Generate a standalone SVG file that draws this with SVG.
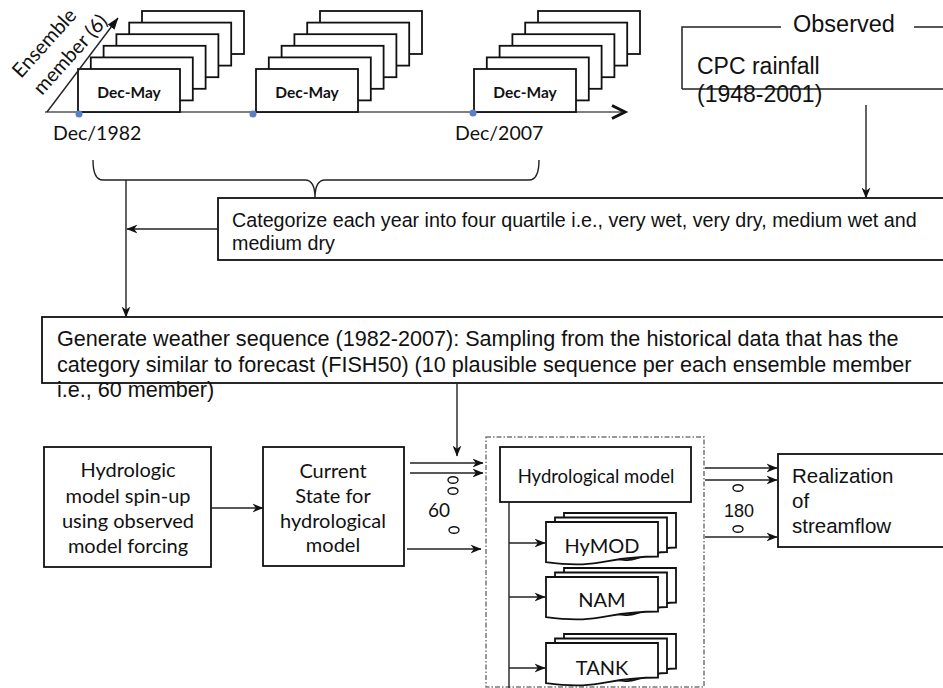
<svg xmlns="http://www.w3.org/2000/svg" width="943" height="688" viewBox="0 0 943 688">
<style>
.box{fill:#fff;stroke:#111;stroke-width:1.8}
.card{fill:#fff;stroke:#111;stroke-width:1.8}
.ln{fill:none;stroke:#222;stroke-width:1.4}
.cal{font-family:Lato,"Liberation Sans",sans-serif;fill:#111}
.ari{font-family:"Liberation Sans",Arial,sans-serif;fill:#111}
.dm{font-family:Lato,"Liberation Sans",sans-serif;font-weight:bold;font-size:15.5px;fill:#111;text-anchor:middle}
.doc{fill:#fff;stroke:#111;stroke-width:1.8}
.ell{fill:none;stroke:#111;stroke-width:1.4}
</style>
<defs>
<marker id="ah" viewBox="0 0 10 10" refX="9.5" refY="5" markerWidth="11" markerHeight="11" markerUnits="userSpaceOnUse" orient="auto">
<path d="M0,1 L10,5 L0,9 L3,5 z" fill="#111"/>
</marker>
<marker id="ah2" viewBox="0 0 10 10" refX="9.5" refY="5" markerWidth="12" markerHeight="12" markerUnits="userSpaceOnUse" orient="auto">
<path d="M0,1.5 L10,5 L0,8.5 z" fill="#111"/>
</marker>
<g id="stack">
<rect class="card" x="64" y="-58" width="102" height="43"/>
<rect class="card" x="51.2" y="-46.4" width="102" height="43"/>
<rect class="card" x="38.4" y="-34.8" width="102" height="43"/>
<rect class="card" x="25.6" y="-23.2" width="102" height="43"/>
<rect class="card" x="12.8" y="-11.6" width="102" height="43"/>
<rect class="card" x="0" y="0" width="102" height="43"/>
<text class="dm" x="51" y="29">Dec-May</text>
</g>
<g id="mdoc">
<path class="doc" d="M18,-9 h112 v34.5 c-28,0 -28,13 -56,6 c-28,-7 -28,0 -56,0 z"/>
<path class="doc" d="M9,-4.5 h112 v34.5 c-28,0 -28,13 -56,6 c-28,-7 -28,0 -56,0 z"/>
<path class="doc" d="M0,0 H112 V34.5 C56,34.5 56,47.6 0,40.2 Z"/>
</g>
</defs>

<g id="timeline">
<line x1="45" y1="112" x2="624" y2="112" stroke="#555" stroke-width="1.5"/>
<polyline points="612,105.5 625,112 612,118.5" fill="none" stroke="#111" stroke-width="3"/>
</g>

<g id="stack1"><use href="#stack" x="78" y="69"/></g>
<g id="stack2"><use href="#stack" x="256" y="69"/></g>
<g id="stack3"><use href="#stack" x="474" y="69"/></g>

<g id="dots" fill="#5b7fc7">
<circle cx="79" cy="114" r="3.5"/>
<circle cx="253" cy="114" r="3.5"/>
<circle cx="473" cy="113" r="3.5"/>
</g>

<g id="ensemble-label" class="cal" font-size="20">
<text transform="translate(21,79) rotate(-48)">Ensemble</text>
<text transform="translate(42,96) rotate(-48)">member (6)</text>
</g>

<g id="dates" class="cal" font-size="19.5">
<text x="53" y="140">Dec/1982</text>
<text x="455" y="140">Dec/2007</text>
</g>

<g id="observed">
<path d="M682,89 V27 H781 M914,27 H945 M682,89 H945" fill="none" stroke="#222" stroke-width="1.5"/>
<text class="ari" x="793" y="32" font-size="23.5">Observed</text>
<text class="ari" x="697" y="74" font-size="23">CPC rainfall</text>
<text class="ari" x="697" y="102" font-size="23">(1948-2001)</text>
</g>

<g id="categorize">
<rect class="box" x="218" y="198" width="740" height="62"/>
<text class="ari" font-size="19.7" x="232" y="227">Categorize each year into four quartile i.e., very wet, very dry, medium wet and</text>
<text class="ari" font-size="19.7" x="232" y="250">medium dry</text>
</g>

<g id="generate">
<rect class="box" x="42" y="317" width="920" height="66"/>
<text class="ari" font-size="21.6" x="57" y="346">Generate weather sequence (1982-2007): Sampling from the historical data that has the</text>
<text class="ari" font-size="21.6" x="57" y="372">category similar to forecast (FISH50) (10 plausible sequence per each ensemble member</text>
<text class="ari" font-size="21.6" x="57" y="397">i.e., 60 member)</text>
</g>

<g id="spinup">
<rect class="box" x="44" y="447" width="167" height="120"/>
<g class="cal" font-size="20" text-anchor="middle">
<text x="128" y="477">Hydrologic</text>
<text x="128" y="503">model spin-up</text>
<text x="128" y="528">using observed</text>
<text x="128" y="553">model forcing</text>
</g>
</g>

<g id="current">
<rect class="box" x="263" y="447" width="141" height="119"/>
<g class="cal" font-size="20" text-anchor="middle">
<text x="333" y="478">Current</text>
<text x="333" y="503">State for</text>
<text x="333" y="528">hydrological</text>
<text x="333" y="552">model</text>
</g>
</g>

<g id="modelgroup">
<rect x="486" y="437" width="218" height="250" fill="none" stroke="#777" stroke-width="1.5" stroke-dasharray="5,2,1.5,2"/>
</g>

<g id="hydromodel">
<rect class="box" x="500" y="447" width="191" height="55"/>
<text class="cal" font-size="18.5" x="596" y="483" text-anchor="middle">Hydrological model</text>
</g>

<g id="hymod"><use href="#mdoc" x="546" y="522"/><text class="cal" font-size="20" x="602" y="553" text-anchor="middle">HyMOD</text></g>
<g id="nam"><use href="#mdoc" x="546" y="577"/><text class="cal" font-size="20" x="602" y="607" text-anchor="middle">NAM</text></g>
<g id="tank"><use href="#mdoc" x="546" y="643"/><text class="cal" font-size="20" x="602" y="675" text-anchor="middle">TANK</text></g>

<g id="realization">
<rect class="box" x="778" y="454" width="180" height="93"/>
<g class="ari" font-size="20.5">
<text x="792" y="483">Realization</text>
<text x="792" y="508">of</text>
<text x="792" y="533">streamflow</text>
</g>
</g>

<g id="counts">
<ellipse class="ell" cx="453" cy="480" rx="5" ry="3.3"/>
<ellipse class="ell" cx="453" cy="491" rx="5" ry="3.3"/>
<ellipse class="ell" cx="454" cy="530" rx="5" ry="3.3"/>
<text class="cal" font-size="19" x="428" y="517">60</text>
<ellipse class="ell" cx="738" cy="488" rx="5" ry="3.3"/>
<ellipse class="ell" cx="738" cy="529" rx="5" ry="3.3"/>
<text class="ari" font-size="18" x="724" y="517">180</text>
</g>

<g id="connectors">
<line class="ln" x1="47" y1="112" x2="118" y2="18" stroke="#111" marker-end="url(#ah2)"/>
<path class="ln" stroke="#444" d="M93,160 Q93,180 103,180 H305 Q315,180 315,198 Q315,180 325,180 H529 Q539,180 539,160"/>
<line class="ln" x1="126" y1="180" x2="126" y2="317" marker-end="url(#ah)"/>
<line class="ln" x1="218" y1="229" x2="127" y2="229" marker-end="url(#ah)"/>
<line class="ln" x1="866" y1="105" x2="866" y2="198" marker-end="url(#ah)"/>
<line class="ln" x1="457" y1="383" x2="457" y2="456" marker-end="url(#ah)"/>
<line class="ln" x1="211" y1="508" x2="263" y2="508" marker-end="url(#ah)"/>
<line class="ln" x1="410" y1="463" x2="483" y2="463" marker-end="url(#ah)"/>
<line class="ln" x1="410" y1="473" x2="483" y2="473" marker-end="url(#ah)"/>
<line class="ln" x1="407" y1="549" x2="481" y2="549" marker-end="url(#ah)"/>
<line class="ln" x1="509" y1="502" x2="509" y2="690"/>
<line class="ln" x1="509" y1="543" x2="545" y2="543" marker-end="url(#ah)"/>
<line class="ln" x1="509" y1="597" x2="545" y2="597" marker-end="url(#ah)"/>
<line class="ln" x1="509" y1="668" x2="545" y2="668" marker-end="url(#ah)"/>
<line class="ln" x1="705" y1="468" x2="777" y2="468" marker-end="url(#ah)"/>
<line class="ln" x1="705" y1="480" x2="777" y2="480" marker-end="url(#ah)"/>
<line class="ln" x1="705" y1="537" x2="777" y2="537" marker-end="url(#ah)"/>
</g>
</svg>
